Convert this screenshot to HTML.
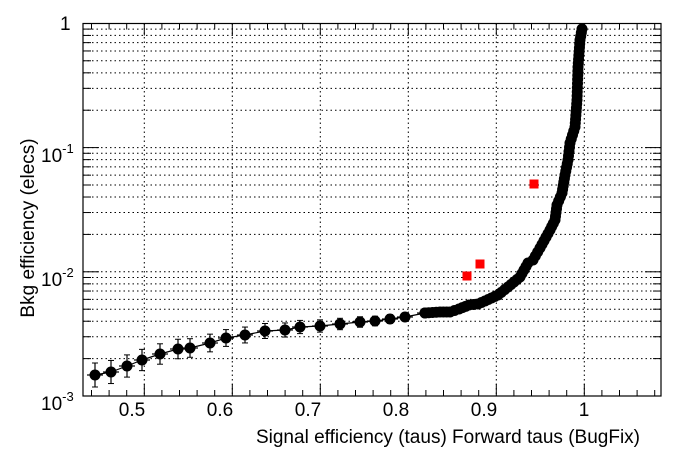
<!DOCTYPE html>
<html><head><style>body{margin:0;background:#fff}svg{display:block}</style></head><body>
<svg id="s" width="696" height="472" xmlns="http://www.w3.org/2000/svg" font-family="Liberation Sans, sans-serif">
<rect width="696" height="472" fill="#fff"/>
<g id="grid" stroke="#000" stroke-width="1" stroke-dasharray="1.5,3" fill="none"></g>
<g id="ticks" stroke="#000" stroke-width="1" fill="none"></g>
<rect x="83" y="23.5" width="578" height="372.5" fill="none" stroke="#000" stroke-width="1.2"/>
<g id="data"></g>
<g fill="#f00">
<rect x="462.5" y="271.5" width="9" height="9"/>
<rect x="475.5" y="259.5" width="9" height="9"/>
<rect x="529.5" y="179.5" width="9" height="9"/>
</g>
<g font-size="19" fill="#000">
<text x="132" y="416" text-anchor="middle">0.5</text>
<text x="220" y="416" text-anchor="middle">0.6</text>
<text x="308" y="416" text-anchor="middle">0.7</text>
<text x="396" y="416" text-anchor="middle">0.8</text>
<text x="484" y="416" text-anchor="middle">0.9</text>
<text x="584" y="416" text-anchor="middle">1</text>
<text x="41" y="410">10<tspan dy="-9" font-size="13">-3</tspan></text>
<text x="41" y="286">10<tspan dy="-9" font-size="13">-2</tspan></text>
<text x="41" y="162">10<tspan dy="-9" font-size="13">-1</tspan></text>
<text x="60" y="30">1</text>
<text x="640" y="443" text-anchor="end">Signal efficiency (taus) Forward taus (BugFix)</text>
<text transform="translate(34,228) rotate(-90)" text-anchor="middle">Bkg efficiency (elecs)</text>
</g>
</svg>
<script>
var ns="http://www.w3.org/2000/svg";
function el(p,t,a){var e=document.createElementNS(ns,t);for(var k in a)e.setAttribute(k,a[k]);p.appendChild(e);return e;}
var L=83,R=661,T=23.5,B=396;
function X(v){return 144.3+(v-0.5)*880;}
function Y(v){return 396-(Math.log10(v)+3)*124.2;}
var g=document.getElementById('grid'),tk=document.getElementById('ticks');
for(var v=0.5;v<=1.05;v+=0.1){var x=X(v);el(g,'line',{x1:x,y1:T,x2:x,y2:B});}
for(var d=-3;d<0;d++)for(var m=1;m<10;m++){var y=Y(m*Math.pow(10,d));if(y<T+1||y>B-0.5)continue;el(g,'line',{x1:L,y1:y,x2:R,y2:y});
 var len=m==1?16:8;el(tk,'line',{x1:L,y1:y,x2:L+len,y2:y});el(tk,'line',{x1:R,y1:y,x2:R-len,y2:y});}
for(var i=0;i<40;i++){var v=0.44+i*0.02;var x=X(v);if(x<L||x>R)continue;var big=Math.abs(((v*10)%1))<0.01||Math.abs(((v*10)%1)-1)<0.01;var len=big?12:6;
 el(tk,'line',{x1:x,y1:B,x2:x,y2:B-len});el(tk,'line',{x1:x,y1:T,x2:x,y2:T+len});}
var D=document.getElementById('data');
var low=[[95,375],[111,372],[127,366],[142,360],[160,354],[178,349],[190,348],[210,343],[226,338],[245,335],[265,331],[285,330],[300,327],[320,326],[340,324],[360,322],[375,321],[390,319],[405,317],[425,313]];
var prev=null;
low.forEach(function(p,i){var e=Math.max(3,12-i*0.45);
 el(D,'line',{x1:p[0],y1:p[1]-e,x2:p[0],y2:p[1]+e,stroke:'#000','stroke-width':1.2});
 el(D,'line',{x1:p[0]-3,y1:p[1]-e,x2:p[0]+3,y2:p[1]-e,stroke:'#000'});
 el(D,'line',{x1:p[0]-3,y1:p[1]+e,x2:p[0]+3,y2:p[1]+e,stroke:'#000'});
 el(D,'line',{x1:p[0]-8,y1:p[1],x2:p[0]+8,y2:p[1],stroke:'#000','stroke-width':1.2});
 if(prev)el(D,'line',{x1:prev[0],y1:prev[1],x2:p[0],y2:p[1],stroke:'#000','stroke-width':1.2});
 el(D,'circle',{cx:p[0],cy:p[1],r:5.5,fill:'#000'});prev=p;});
var up=[[425,313],[440,312],[450,312],[459,309],[469,305],[478,304],[485,301],[498,295],[508,287],[520,277],[528,263],[533,260],[540,248],[550,230],[555,220],[557,205],[562,193],[565,175],[568,160],[570,143],[575,127],[577,100],[578,67],[580,40],[582,29]];
for(var i=1;i<up.length;i++){var a=up[i-1],b=up[i];var dx=b[0]-a[0],dy=b[1]-a[1];var n=Math.max(1,Math.round(Math.hypot(dx,dy)/4));
 el(D,'line',{x1:a[0],y1:a[1],x2:b[0],y2:b[1],stroke:'#000','stroke-width':2});
 for(var k=0;k<n;k++){el(D,'circle',{cx:a[0]+dx*k/n,cy:a[1]+dy*k/n,r:5.5,fill:'#000'});}}
el(D,'circle',{cx:582,cy:29,r:5.5,fill:'#000'});
</script>
</body></html>
